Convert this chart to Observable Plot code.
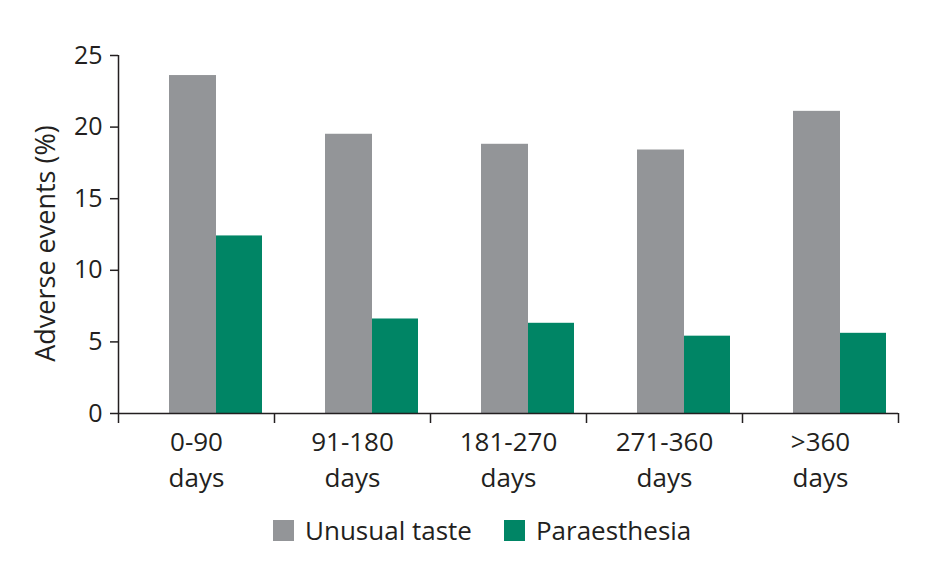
<!DOCTYPE html>
<html>
<head>
<meta charset="utf-8">
<script src="https://cdn.jsdelivr.net/npm/d3@7"></script>
<script src="https://cdn.jsdelivr.net/npm/@observablehq/plot@0.6"></script>
<style>
  body { margin: 0; background: #fff; font-family: "Open Sans", sans-serif; color: #231f20; }
  #legend { display: flex; align-items: center; height: 56px; padding-left: 273px; font-size: 26px; }
  .sw { width: 21px; height: 21px; display: inline-block; margin-right: 11px; }
  .item { display: flex; align-items: center; margin-right: 32px; }
</style>
</head>
<body>
<div id="chart"></div>
<div id="legend"></div>
<script>
const categories = ["0-90 days", "91-180 days", "181-270 days", "271-360 days", ">360 days"];
const unusualTaste = [23.6, 19.5, 18.8, 18.4, 21.1];
const paraesthesia = [12.4, 6.6, 6.3, 5.4, 5.6];
const yTicks = [0, 5, 10, 15, 20, 25];
const yLabel = "Adverse events (%)";
const seriesNames = ["Unusual taste", "Paraesthesia"];
const seriesColors = ["#939598", "#008565"];

const data = categories.map((c, i) => ({category: c, taste: unusualTaste[i], para: paraesthesia[i]}));
const ink = "#231f20";

const chart = Plot.plot({
  width: 941,
  height: 502,
  marginLeft: 118,
  marginRight: 43,
  marginTop: 55,
  marginBottom: 89,
  style: {fontFamily: "'Open Sans', sans-serif", fontSize: "25px", color: ink, background: "white"},
  x: {domain: categories, padding: 0, label: null},
  y: {domain: [yTicks[0], yTicks[yTicks.length - 1]], label: null},
  marks: [
    Plot.barY(data, {x: "category", y: "taste", fill: seriesColors[0], insetLeft: 51, insetRight: 58}),
    Plot.barY(data, {x: "category", y: "para", fill: seriesColors[1], insetLeft: 98, insetRight: 12}),
    Plot.ruleY([0], {stroke: ink, strokeWidth: 1.5}),
    Plot.ruleX([categories[0]], {dx: -78, y1: yTicks[0], y2: yTicks[yTicks.length - 1], stroke: ink, strokeWidth: 1.5}),
    Plot.axisY(yTicks, {tickSize: 8, tickPadding: 8, strokeWidth: 1.5, stroke: ink, fill: ink, fontSize: 25, label: null}),
    Plot.text([yLabel], {frameAnchor: "left", textAnchor: "middle", rotate: -90, dx: -72, dy: 9, fontSize: 27, fill: ink}),
    Plot.axisX({tickSize: 0, tickPadding: 12, tickFormat: d => d.replace(" ", "\n"), lineHeight: 1.38,
      fontSize: 26, fill: ink, label: null}),
    Plot.axisX(categories, {tickSize: 10, tickFormat: () => "", dx: -78, stroke: ink, strokeWidth: 1.5, label: null}),
    Plot.axisX([categories[categories.length - 1]], {tickSize: 10, tickFormat: () => "", dx: 78, stroke: ink, strokeWidth: 1.5, label: null})
  ]
});
document.getElementById("chart").appendChild(chart);

const legend = document.getElementById("legend");
seriesNames.forEach((name, i) => {
  const item = document.createElement("div");
  item.className = "item";
  const sw = document.createElement("span");
  sw.className = "sw";
  sw.style.background = seriesColors[i];
  item.appendChild(sw);
  item.appendChild(document.createTextNode(name));
  legend.appendChild(item);
});
</script>
</body>
</html>
